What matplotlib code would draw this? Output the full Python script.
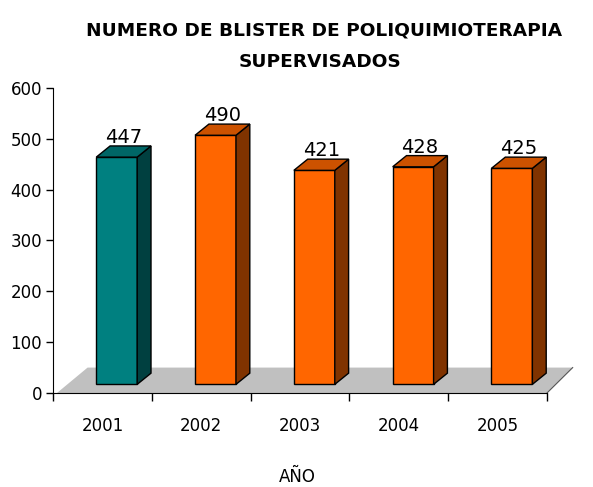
import matplotlib.pyplot as plt
from matplotlib.patches import Polygon
import numpy as np

years = ["2001", "2002", "2003", "2004", "2005"]
blisters = [447, 490, 421, 428, 425]
front_colors = ["#008080", "#FF6600", "#FF6600", "#FF6600", "#FF6600"]
side_colors = ["#004040", "#803300", "#803300", "#803300", "#803300"]
top_colors = ["#006666", "#CC5200", "#CC5200", "#CC5200", "#CC5200"]

fig = plt.figure(figsize=(5.93, 4.87), dpi=100)
ax = fig.add_axes([53 / 593, 94 / 487, 494 / 593, 305 / 487])

x = np.arange(len(years))
shift = 0.145      # front face offset from category centre
width = 0.414
base = 17          # bars stand a bit above the floor front edge
ddx, ddy = 0.14, 22  # depth of the 3d effect (x units, y units)

# gray floor
floor = Polygon([(-0.46, 0), (4.5, 0), (4.76, 50), (-0.15, 50)],
                closed=True, facecolor="#C0C0C0", edgecolor="none",
                clip_on=False, zorder=1)
ax.add_patch(floor)
ax.plot([4.5, 4.76], [0, 50], color="#555555", lw=0.8, clip_on=False, zorder=1)

ax.bar(x + shift, blisters, width=width, bottom=base, color=front_colors,
       edgecolor="black", linewidth=1, zorder=3)

for i, v in enumerate(blisters):
    x0 = i + shift - width / 2
    x1 = i + shift + width / 2
    top = base + v
    side = Polygon([(x1, base), (x1 + ddx, base + ddy), (x1 + ddx, top + ddy), (x1, top)],
                   closed=True, facecolor=side_colors[i], edgecolor="black", lw=1, zorder=3)
    lid = Polygon([(x0, top), (x1, top), (x1 + ddx, top + ddy), (x0 + ddx, top + ddy)],
                  closed=True, facecolor=top_colors[i], edgecolor="black", lw=1, zorder=3)
    ax.add_patch(side)
    ax.add_patch(lid)
    ax.text(i + shift + ddx / 2, v + 45, str(v), ha="center", va="baseline",
            fontsize=14, zorder=4)

ax.set_xlim(-0.5, 4.5)
ax.set_ylim(0, 600)
ax.set_yticks(range(0, 601, 100))
ax.set_xticks(x)
ax.set_xticklabels(years)
ax.set_xticks(np.arange(-0.5, 4.6, 1), minor=True)
ax.tick_params(axis="x", which="major", length=0, pad=17, labelsize=12)
ax.tick_params(axis="x", which="minor", length=6, width=1)
ax.tick_params(axis="y", length=5, width=1, pad=3, labelsize=12)

for s in ["top", "right"]:
    ax.spines[s].set_visible(False)

fig.text(324 / 593, 1 - 30 / 487, "NUMERO DE BLISTER DE POLIQUIMIOTERAPIA",
         ha="center", va="center", fontsize=13.3, fontweight="bold")
fig.text(320 / 593, 1 - 62 / 487, "SUPERVISADOS",
         ha="center", va="center", fontsize=13.3, fontweight="bold")
fig.text(297 / 593, 1 - 477 / 487, "AÑO", ha="center", va="center", fontsize=12)

fig.savefig("out.png", dpi=100)
